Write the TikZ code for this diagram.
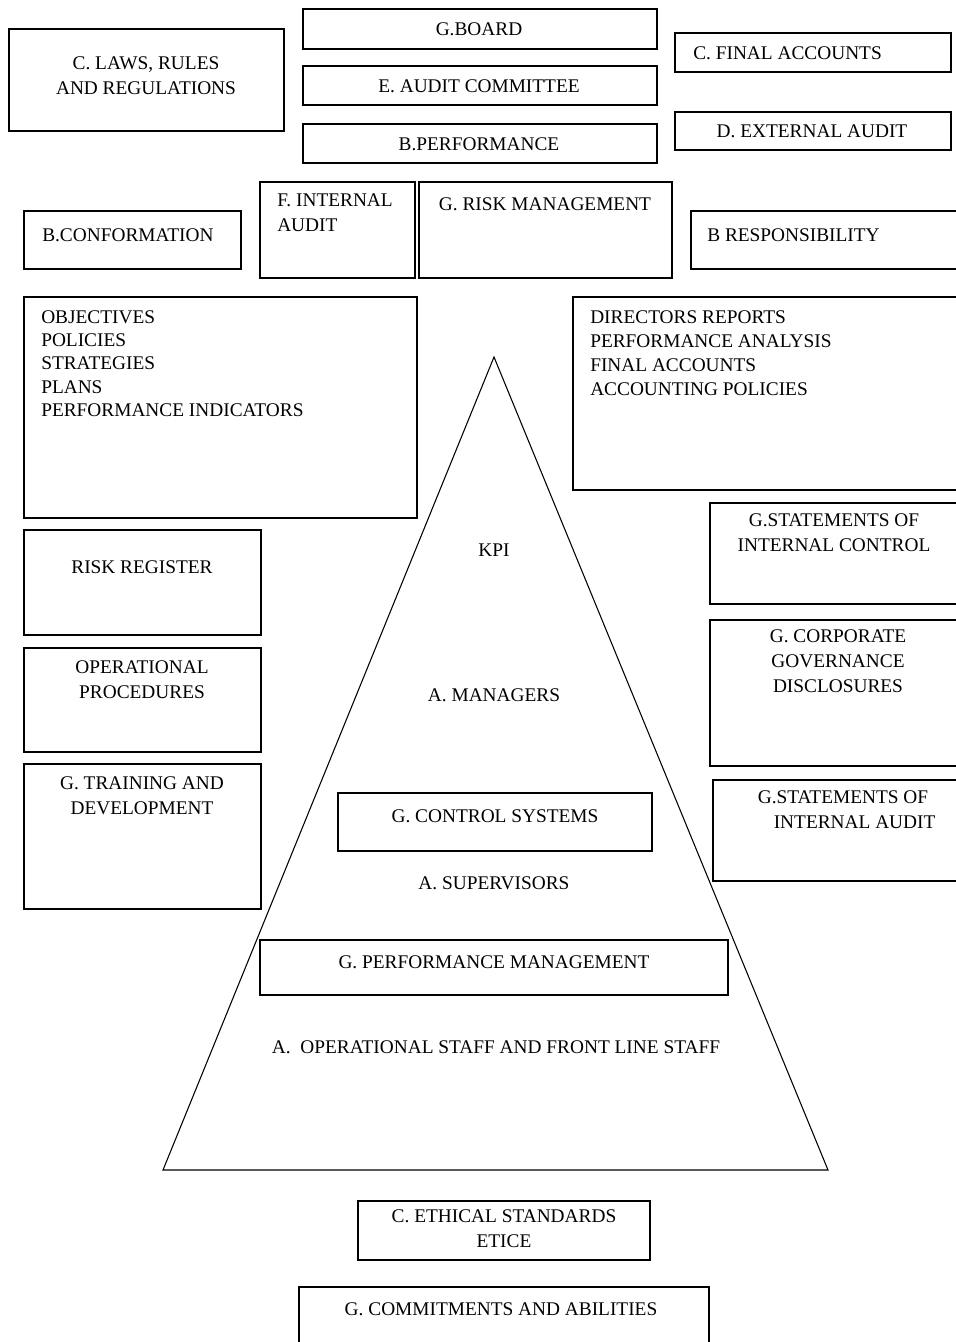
\documentclass[tikz,border=0pt]{standalone}
\usepackage{fontspec}
\setmainfont{Liberation Serif}
\usepackage{tikz}

\begin{document}
\begin{tikzpicture}[x=0.75pt,y=0.75pt]
\tikzstyle{every node}+=[inner sep=0pt,font=\fontsize{14.5}{18.75}\selectfont]
\tikzstyle{lst}=[anchor=north west,align=left,font=\fontsize{14.5}{17.5}\selectfont]
\tikzstyle{box}=[black,line width=1.1pt]
\clip (0,0) rectangle (956,-1342);
\fill [white] (0,0) rectangle (956,-1342);
% top row
\draw [box] (9,-29) rectangle (284,-131);
\draw (146,-76) node [align=center] (laws) {C. LAWS, RULES\\AND REGULATIONS};
\draw [box] (303,-9) rectangle (657,-49);
\draw (479,-29) node (board) {G.BOARD};
\draw [box] (303,-66) rectangle (657,-105);
\draw (479,-86) node (auditcom) {E. AUDIT COMMITTEE};
\draw [box] (303,-124) rectangle (657,-163);
\draw (479,-144) node (perf) {B.PERFORMANCE};
\draw [box] (675,-33) rectangle (951,-72);
\draw (693,-53) node [anchor=west] (finacc) {C. FINAL ACCOUNTS};
\draw [box] (675,-112) rectangle (951,-150);
\draw (812,-131) node (extaudit) {D. EXTERNAL AUDIT};
% second row
\draw [box] (24,-211) rectangle (241,-269);
\draw (42,-235) node [anchor=west] (conform) {B.CONFORMATION};
\draw [box] (260,-182) rectangle (415,-278);
\draw (277,-213) node [anchor=west,align=left] (intaudit) {F. INTERNAL\\AUDIT};
\draw [box] (419,-182) rectangle (672,-278);
\draw (545,-204) node (riskman) {G. RISK MANAGEMENT};
\draw [box] (691,-211) rectangle (970,-269);
\draw (707,-235) node [anchor=west] (respons) {B RESPONSIBILITY};
% lists
\draw [box] (24,-297) rectangle (417,-518);
\draw (41,-310) node [lst] (objectives) {OBJECTIVES\\POLICIES\\STRATEGIES\\PLANS\\PERFORMANCE INDICATORS};
\draw [box] (573,-297) rectangle (970,-490);
\draw (590,-310) node [lst,font=\fontsize{14.5}{18}\selectfont] (directors) {DIRECTORS REPORTS\\PERFORMANCE ANALYSIS\\FINAL ACCOUNTS\\ACCOUNTING POLICIES};
% left column
\draw [box] (24,-530) rectangle (261,-635);
\draw (142,-567) node (riskreg) {RISK REGISTER};
\draw [box] (24,-648) rectangle (261,-752);
\draw (142,-680) node [align=center] (opproc) {OPERATIONAL\\PROCEDURES};
\draw [box] (24,-764) rectangle (261,-909);
\draw (142,-796) node [align=center] (training) {G. TRAINING AND\\DEVELOPMENT};
% right column
\draw [box] (710,-503) rectangle (970,-604);
\draw (834,-533) node [align=center] (stmtctrl) {G.STATEMENTS OF\\INTERNAL CONTROL};
\draw [box] (710,-620) rectangle (970,-766);
\draw (838,-661) node [align=center] (corpgov) {G. CORPORATE\\GOVERNANCE\\DISCLOSURES};
\draw [box] (713,-780) rectangle (970,-881);
\draw (843,-810) node [align=center] (stmtaudit) {G.STATEMENTS OF\\\hspace{1.2em}INTERNAL AUDIT};
% pyramid
\draw [black,line width=0.8pt] (494,-357) -- (828,-1170) -- (163,-1170) -- cycle;
\draw (494,-550) node (kpi) {KPI};
\draw (494,-695) node (managers) {A. MANAGERS};
\draw [box] (338,-793) rectangle (652,-851);
\draw (495,-816) node (ctrlsys) {G. CONTROL SYSTEMS};
\draw (494,-883) node (supervisors) {A. SUPERVISORS};
\draw [box] (260,-940) rectangle (728,-995);
\draw (494,-962) node (perfman) {G. PERFORMANCE MANAGEMENT};
\draw (496,-1047) node (staff) {A.\ \ OPERATIONAL STAFF AND FRONT LINE STAFF};
% bottom
\draw [box] (358,-1201) rectangle (650,-1260);
\draw (504,-1229) node [align=center] (ethics) {C. ETHICAL STANDARDS\\ETICE};
\draw [box] (299,-1287) rectangle (709,-1360);
\draw (501,-1309) node (commit) {G. COMMITMENTS AND ABILITIES};
\end{tikzpicture}
\end{document}
